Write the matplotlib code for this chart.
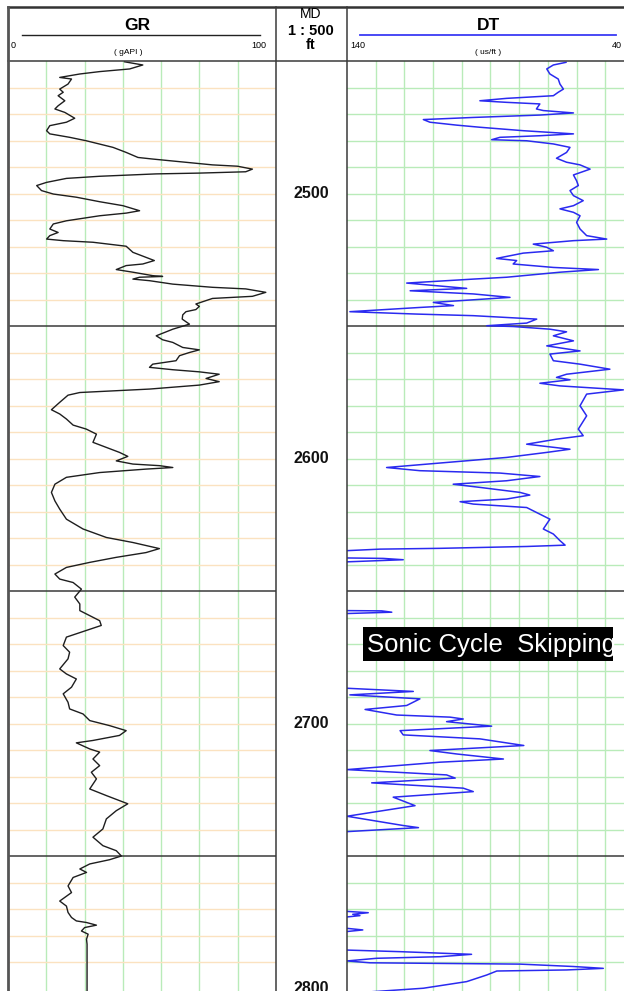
import numpy as np
import matplotlib
matplotlib.use("Agg")
import matplotlib.pyplot as plt
from matplotlib.patches import Rectangle

plt.rcParams['font.family'] = ['Liberation Sans', 'DejaVu Sans']

# --- данные ---
gr_depth = [2450.3, 2451.5, 2453.0, 2454.0, 2454.9, 2456.2, 2456.8, 2458.7, 2460.6, 2461.8,
            2463.1, 2465.0, 2466.9, 2468.1, 2469.4, 2471.6, 2473.1, 2474.4, 2476.3, 2477.5,
            2478.8, 2480.1, 2482.6, 2484.5, 2486.4, 2487.0, 2488.2, 2489.2, 2489.7, 2490.8,
            2491.8, 2492.3, 2492.6, 2493.5, 2494.3, 2495.8, 2497.0, 2498.9, 2500.2, 2501.4,
            2503.1, 2504.6, 2506.5, 2507.4, 2508.4, 2510.3, 2511.5, 2513.4, 2514.7, 2515.9,
            2517.2, 2517.8, 2518.4, 2519.9, 2522.2, 2524.1, 2525.3, 2526.6, 2527.2, 2528.7,
            2529.7, 2531.0, 2531.3, 2531.6, 2532.3, 2532.9, 2534.2, 2535.4, 2536.0, 2537.3,
            2538.8, 2539.6, 2541.7, 2542.6, 2543.8, 2544.6, 2545.8, 2547.4, 2549.3, 2551.2,
            2553.7, 2555.2, 2556.2, 2558.1, 2559.0, 2560.0, 2561.2, 2563.1, 2564.4, 2565.6,
            2566.5, 2567.3, 2568.2, 2569.8, 2571.0, 2572.3, 2573.8, 2574.4, 2575.1, 2576.1,
            2578.8, 2581.6, 2583.2, 2585.1, 2587.4, 2588.9, 2590.8, 2593.9, 2595.8, 2597.7,
            2599.2, 2600.9, 2602.1, 2602.7, 2603.4, 2604.0, 2605.3, 2607.1, 2609.7, 2612.8,
            2616.0, 2619.1, 2622.9, 2626.6, 2629.8, 2631.7, 2634.0, 2635.5, 2637.3, 2639.2,
            2641.1, 2643.6, 2645.5, 2646.8, 2649.3, 2652.3, 2654.9, 2657.4, 2659.3, 2661.2,
            2663.0, 2664.9, 2667.4, 2670.6, 2673.1, 2675.6, 2679.4, 2681.3, 2683.2, 2686.3,
            2688.8, 2692.0, 2694.5, 2696.4, 2698.9, 2700.8, 2702.7, 2704.5, 2706.4, 2707.3,
            2709.6, 2710.8, 2713.4, 2715.9, 2718.4, 2720.9, 2724.7, 2727.2, 2730.3, 2732.9,
            2736.0, 2739.8, 2742.9, 2746.1, 2748.0, 2750.0, 2751.4, 2753.0, 2754.9, 2756.2,
            2758.1, 2761.3, 2763.8, 2767.0, 2768.9, 2771.3, 2773.2, 2774.5, 2775.1, 2776.1,
            2777.0, 2778.3, 2779.5, 2781.4, 2783.3, 2801.0]
gr_value = [43.5, 50.3, 45.4, 34.2, 26.8, 19.3, 23.7, 22.4, 19.3, 20.6,
            18.7, 21.2, 18.7, 17.5, 21.2, 24.9, 21.8, 15.6, 14.4, 15.6,
            23.0, 29.2, 39.2, 44.1, 48.5, 54.0, 66.4, 76.3, 85.6, 91.2,
            88.7, 71.4, 55.3, 34.2, 21.8, 14.4, 10.7, 12.5, 16.9, 25.5,
            34.2, 42.9, 49.1, 44.1, 34.2, 21.8, 16.9, 15.6, 18.7, 15.6,
            14.4, 20.6, 31.7, 44.1, 46.6, 51.5, 54.6, 50.3, 44.1, 40.4,
            46.6, 54.0, 57.7, 49.1, 46.6, 52.8, 61.5, 76.3, 88.7, 96.2,
            91.2, 76.3, 70.1, 71.4, 70.1, 66.4, 65.2, 65.0, 67.7, 61.5,
            55.3, 57.7, 61.5, 65.2, 71.4, 67.7, 64.0, 62.7, 54.0, 52.8,
            61.5, 71.4, 78.8, 73.9, 78.8, 71.4, 52.8, 40.4, 26.8, 22.4,
            19.3, 16.2, 19.3, 21.8, 24.3, 29.2, 33.0, 31.7, 36.7, 41.6,
            44.7, 40.4, 46.6, 56.5, 61.5, 51.5, 34.2, 21.8, 17.5, 16.2,
            17.5, 19.3, 21.8, 28.0, 36.7, 46.6, 56.5, 51.5, 40.4, 30.5,
            21.8, 17.5, 19.3, 24.3, 27.4, 24.9, 26.8, 26.8, 30.5, 34.2,
            34.8, 29.2, 21.8, 20.6, 23.0, 22.4, 19.3, 21.8, 25.5, 23.7,
            20.6, 22.4, 23.0, 28.0, 30.5, 37.9, 44.1, 41.6, 31.7, 25.5,
            30.5, 34.2, 31.7, 34.2, 31.1, 33.0, 30.5, 36.7, 44.7, 40.4,
            36.7, 35.4, 31.7, 35.4, 40.4, 42.3, 37.9, 30.5, 26.8, 29.3,
            24.3, 22.4, 23.7, 19.3, 21.8, 22.4, 23.7, 25.5, 29.3, 33.0,
            28.6, 27.4, 29.9, 29.3, 29.5, 29.5]

dt_depth = [2450.5, 2451.5, 2453.0, 2454.9, 2456.8, 2458.7, 2460.6, 2461.8, 2463.1, 2464.1,
            2465.0, 2465.6, 2466.2, 2468.1, 2468.7, 2469.6, 2470.4, 2471.3, 2472.1, 2473.1,
            2474.2, 2475.0, 2476.3, 2477.5, 2478.2, 2478.8, 2479.7, 2480.1, 2481.3, 2482.6,
            2484.5, 2486.7, 2488.2, 2489.2, 2490.8, 2493.0, 2495.2, 2497.0, 2498.9, 2500.8,
            2502.7, 2504.6, 2505.8, 2507.1, 2508.4, 2510.9, 2513.4, 2515.9, 2517.2, 2517.8,
            2519.1, 2520.3, 2521.6, 2522.5, 2524.5, 2525.3, 2526.6, 2527.9, 2528.7, 2529.7,
            2531.6, 2532.3, 2533.8, 2535.8, 2536.7, 2537.9, 2539.2, 2541.1, 2542.3, 2543.0,
            2544.6, 2545.5, 2546.1, 2547.4, 2548.9, 2549.9, 2550.2, 2551.2, 2552.2, 2553.7,
            2555.6, 2557.5, 2559.4, 2560.6, 2563.1, 2564.4, 2566.3, 2568.2, 2569.4, 2570.3,
            2571.6, 2572.6, 2574.1, 2575.7, 2580.1, 2583.9, 2588.9, 2591.4, 2592.7, 2594.6,
            2596.5, 2597.7, 2599.6, 2601.5, 2603.4, 2604.6, 2605.5, 2606.8, 2608.4, 2609.7,
            2610.9, 2612.8, 2613.8, 2615.3, 2616.3, 2617.2, 2618.5, 2622.9, 2626.6, 2628.5,
            2631.0, 2632.7, 2633.2, 2633.9, 2634.2, 2634.8, 2635.4, 2637.4, 2637.7, 2638.2,
            2639.0, 2639.5, 2657.0, 2657.4, 2657.5, 2658.0, 2658.5, 2659.0, 2686.3, 2686.7,
            2687.9, 2689.2, 2690.7, 2693.2, 2694.7, 2696.8, 2697.6, 2698.3, 2699.3, 2701.0,
            2702.7, 2704.3, 2705.8, 2708.3, 2710.2, 2711.5, 2713.4, 2714.6, 2717.4, 2719.4,
            2720.6, 2722.4, 2724.4, 2725.7, 2727.8, 2731.0, 2735.0, 2738.5, 2739.3, 2740.8,
            2741.2, 2770.5, 2770.9, 2771.4, 2772.0, 2772.5, 2773.0, 2773.4, 2777.0, 2777.3,
            2777.9, 2778.5, 2778.9, 2785.2, 2785.5, 2786.1, 2787.1, 2788.0, 2788.6, 2789.6,
            2790.3, 2790.8, 2791.7, 2792.4, 2793.0, 2793.4, 2794.9, 2797.4, 2799.9, 2801.2]
dt_value = [63.7, 68.1, 70.4, 69.3, 66.4, 65.8, 64.6, 66.4, 68.1, 84.4,
            93.7, 84.4, 72.8, 74.0, 71.6, 61.1, 72.8, 96.0, 113.4, 111.1,
            101.8, 93.7, 78.6, 61.1, 72.8, 86.7, 89.6, 77.4, 68.1, 62.3,
            63.5, 67.0, 63.5, 58.8, 55.3, 61.1, 60.0, 59.4, 62.3, 61.1,
            57.7, 61.1, 65.8, 61.1, 58.8, 60.0, 58.8, 56.5, 49.5, 61.1,
            75.1, 70.4, 68.1, 78.6, 87.9, 80.9, 82.1, 68.1, 52.4, 65.8,
            84.4, 96.0, 119.2, 98.3, 118.0, 96.0, 83.2, 109.9, 102.9, 114.6,
            139.0, 115.7, 96.0, 73.9, 77.4, 91.3, 82.0, 69.3, 63.5, 68.1,
            61.1, 70.4, 58.8, 69.3, 68.1, 58.8, 48.4, 63.5, 67.0, 62.3,
            72.8, 65.8, 43.7, 56.5, 58.8, 56.5, 59.4, 57.7, 67.0, 77.4,
            62.3, 70.4, 84.4, 105.3, 126.2, 114.6, 86.7, 72.8, 84.4, 103.0,
            93.7, 79.7, 76.3, 84.4, 100.6, 96.0, 77.4, 69.3, 71.6, 68.1,
            65.8, 64.0, 77.4, 107.6, 128.5, 140.5, 150, 150, 127.4, 120.4,
            140.1, 150, 150, 140, 127.9, 124.4, 140, 150, 150, 140,
            116.9, 139, 114.6, 119.2, 133.7, 122.7, 104.1, 99.5, 105.3, 89.6,
            121.5, 120.4, 93.7, 78.4, 111.1, 101.8, 85.5, 107.6, 140, 105.3,
            102.3, 131.4, 99.5, 96.0, 123.9, 116.3, 140, 120.4, 115.1, 140,
            150, 150, 140, 132.6, 138, 135.5, 140, 150, 150, 140,
            134.5, 140, 150, 150, 140, 121.5, 96.6, 107.6, 129.7, 140,
            132, 79.7, 61.1, 50.7, 63.5, 87.8, 91.3, 98.3, 113.4, 131]

depth_labels = [2500, 2600, 2700, 2800]
note_text = "Sonic Cycle  Skipping"

W, H = 624, 991
PX_PER_FT = 2.65
TOP_DEPTH = 2450
BOT_DEPTH = TOP_DEPTH + (H - 61) / PX_PER_FT

GRID_GREEN = '#b9ebb9'
GRID_ORANGE = '#fbe2c0'
DARK = '#3a3a3a'


def frac(x0, y0, x1, y1):
    # пиксели (от левого верхнего угла) -> координаты фигуры
    return [x0 / W, 1 - y1 / H, (x1 - x0) / W, (y1 - y0) / H]


def track_grid(ax, xticks, hcolor):
    for x in xticks:
        ax.axvline(x, color=GRID_GREEN, lw=1.0, zorder=1)
    for d in range(2460, 2800, 10):
        if d % 100 == 50:
            continue
        ax.axhline(d, color=hcolor, lw=1.0, zorder=1)
    for d in (2550, 2650, 2750):
        ax.axhline(d, color=DARK, lw=1.1, zorder=2)


fig = plt.figure(figsize=(W / 100, H / 100), dpi=100)
fig.patch.set_facecolor('white')

ax_gr = fig.add_axes(frac(8, 61, 276, H))
ax_md = fig.add_axes(frac(276, 61, 347, H))
ax_dt = fig.add_axes(frac(347, 61, 634, H))

for ax in (ax_gr, ax_md, ax_dt):
    ax.set_ylim(BOT_DEPTH, TOP_DEPTH)
    ax.set_xticks([])
    ax.set_yticks([])
    for s in ax.spines.values():
        s.set_visible(False)

# GR
ax_gr.set_xlim(0, 100)
track_grid(ax_gr, np.arange(1, 7) * 100 / 7, GRID_ORANGE)
ax_gr.plot(gr_value, gr_depth, color='#1e1e1e', lw=1.0, zorder=3)

# глубины
ax_md.set_xlim(0, 1)
for d in depth_labels:
    ax_md.text(0.5, d, str(d), ha='center', va='center', fontsize=11.5,
               fontweight='bold', color='#111111')

# DT
ax_dt.set_xlim(140, 40)
track_grid(ax_dt, np.arange(130, 40, -10), GRID_GREEN)
ax_dt.plot(dt_value, dt_depth, color='#2a2af0', lw=1.1, zorder=3)

box = Rectangle((134.4, 2663.6), 47.3 - 134.4, 12.8, facecolor='black',
                edgecolor='none', zorder=5)
ax_dt.add_patch(box)
txt = ax_dt.text(133.1, 2670.4, note_text, color='white', fontsize=18.5,
                 ha='left', va='center', zorder=6)
txt.set_clip_path(box)

# шапка и рамки поверх
ov = fig.add_axes([0, 0, 1, 1], zorder=10)
ov.set_xlim(0, W)
ov.set_ylim(H, 0)
ov.axis('off')
ov.patch.set_visible(False)

ov.plot([8, W], [7, 7], color='#333333', lw=1.8)
ov.plot([8, W], [61, 61], color=DARK, lw=1.1)
ov.plot([8, 8], [7, H], color='#555555', lw=2.0)
ov.plot([276, 276], [7, H], color=DARK, lw=1.1)
ov.plot([347, 347], [7, H], color=DARK, lw=1.1)

ov.text(137, 25, 'GR', ha='center', va='center', fontsize=12.5, fontweight='bold')
ov.plot([22, 260], [35, 35], color='#222222', lw=1.0)
ov.text(11, 45, '0', ha='left', va='center', fontsize=6.5)
ov.text(266, 45, '100', ha='right', va='center', fontsize=6.5)
ov.text(128, 52, '( gAPI )', ha='center', va='center', fontsize=6)

ov.text(311, 14, 'MD', ha='center', va='center', fontsize=10)
ov.text(311, 31, '1 : 500', ha='center', va='center', fontsize=10.5, fontweight='bold')
ov.text(311, 45, 'ft', ha='center', va='center', fontsize=10.5, fontweight='bold')

ov.text(488, 25, 'DT', ha='center', va='center', fontsize=12.5, fontweight='bold')
ov.plot([360, 616], [35, 35], color='#3a3af5', lw=1.3)
ov.text(350, 45, '140', ha='left', va='center', fontsize=6.5)
ov.text(622, 45, '40', ha='right', va='center', fontsize=6.5)
ov.text(488, 52, '( us/ft )', ha='center', va='center', fontsize=6)

fig.savefig('out.png', dpi=100, facecolor='white')
plt.close(fig)
